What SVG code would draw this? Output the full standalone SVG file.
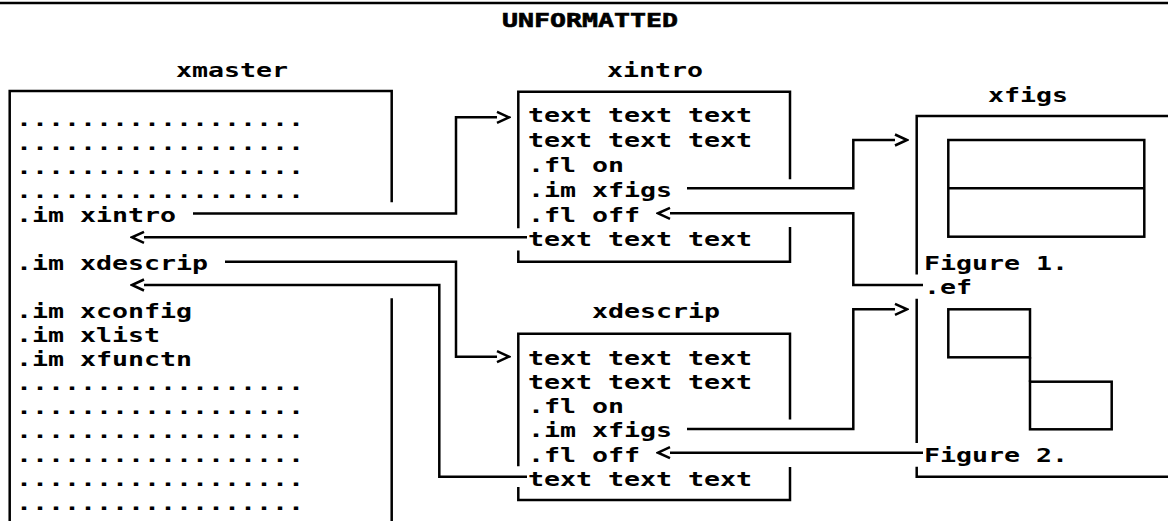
<svg xmlns="http://www.w3.org/2000/svg" width="1168" height="521" viewBox="0 0 1168 521">
  <style>
    .t { font-family: "DejaVu Sans Mono", "Liberation Mono", monospace; font-size: 20px; font-weight: bold; fill: #000; }
    .h { stroke: #000; stroke-width: 0.6px; }
    .box { fill: none; stroke: #000; stroke-width: 2.5; stroke-linecap: square; }
    .wire { fill: none; stroke: #000; stroke-width: 2.5; marker-end: url(#chev); }
    .plain { fill: none; stroke: #000; stroke-width: 2.5; }
  </style>
  <defs>
    <!-- open chevron head, drawn ahead of the path end like a typed > -->
    <marker id="chev" viewBox="-2 -8 16 16" refX="0" refY="0" markerWidth="16" markerHeight="16" orient="auto" markerUnits="userSpaceOnUse">
      <path d="M0,-5.5 L12,0 L0,5.5" fill="none" stroke="#000" stroke-width="2.5"/>
    </marker>
  </defs>
  <rect width="1168" height="521" fill="#fff"/>

  <!-- heading -->
  <g id="heading">
    <line x1="0" y1="3" x2="1168" y2="3" stroke="#000" stroke-width="2.5"/>
    <text class="t h" x="502" y="27" textLength="176" lengthAdjust="spacingAndGlyphs">UNFORMATTED</text>
  </g>

  <!-- master file -->
  <g id="xmaster">
    <text class="t" x="176" y="76.5" textLength="112" lengthAdjust="spacingAndGlyphs">xmaster</text>
    <path class="box" d="M9.7,521 V91 H391.7 V201 M391.7,299.5 V521"/>
    <g class="t">
      <text x="16" y="125.5" textLength="288" lengthAdjust="spacingAndGlyphs">..................</text>
      <text x="16" y="149.5" textLength="288" lengthAdjust="spacingAndGlyphs">..................</text>
      <text x="16" y="173.5" textLength="288" lengthAdjust="spacingAndGlyphs">..................</text>
      <text x="16" y="197.5" textLength="288" lengthAdjust="spacingAndGlyphs">..................</text>
      <text x="16" y="221.5" textLength="160" lengthAdjust="spacingAndGlyphs">.im xintro</text>
      <text x="16" y="269.5" textLength="192" lengthAdjust="spacingAndGlyphs">.im xdescrip</text>
      <text x="16" y="317.5" textLength="176" lengthAdjust="spacingAndGlyphs">.im xconfig</text>
      <text x="16" y="341.5" textLength="144" lengthAdjust="spacingAndGlyphs">.im xlist</text>
      <text x="16" y="365.5" textLength="176" lengthAdjust="spacingAndGlyphs">.im xfunctn</text>
      <text x="16" y="389.5" textLength="288" lengthAdjust="spacingAndGlyphs">..................</text>
      <text x="16" y="413.5" textLength="288" lengthAdjust="spacingAndGlyphs">..................</text>
      <text x="16" y="437.5" textLength="288" lengthAdjust="spacingAndGlyphs">..................</text>
      <text x="16" y="461.5" textLength="288" lengthAdjust="spacingAndGlyphs">..................</text>
      <text x="16" y="485.5" textLength="288" lengthAdjust="spacingAndGlyphs">..................</text>
      <text x="16" y="509.5" textLength="288" lengthAdjust="spacingAndGlyphs">..................</text>
    </g>
  </g>

  <!-- imbedded file: introduction -->
  <g id="xintro">
    <text class="t" x="607" y="76.5" textLength="96" lengthAdjust="spacingAndGlyphs">xintro</text>
    <path class="box" d="M518.3,227 V91.7 H790 V178 M790,228.3 V261.7 H518.3 V251.7"/>
    <g class="t">
      <text x="528" y="122" textLength="224" lengthAdjust="spacingAndGlyphs">text text text</text>
      <text x="528" y="147" textLength="224" lengthAdjust="spacingAndGlyphs">text text text</text>
      <text x="528" y="172" textLength="96" lengthAdjust="spacingAndGlyphs">.fl on</text>
      <text x="528" y="197" textLength="144" lengthAdjust="spacingAndGlyphs">.im xfigs</text>
      <text x="528" y="221.5" textLength="112" lengthAdjust="spacingAndGlyphs">.fl off</text>
      <text x="528" y="245.5" textLength="224" lengthAdjust="spacingAndGlyphs">text text text</text>
    </g>
  </g>

  <!-- imbedded file: description -->
  <g id="xdescrip">
    <text class="t" x="592" y="318" textLength="128" lengthAdjust="spacingAndGlyphs">xdescrip</text>
    <path class="box" d="M518.3,465 V333.7 H790 V418.3 M790,468.3 V500 H518.3 V488.3"/>
    <g class="t">
      <text x="528" y="365" textLength="224" lengthAdjust="spacingAndGlyphs">text text text</text>
      <text x="528" y="389" textLength="224" lengthAdjust="spacingAndGlyphs">text text text</text>
      <text x="528" y="413" textLength="96" lengthAdjust="spacingAndGlyphs">.fl on</text>
      <text x="528" y="437" textLength="144" lengthAdjust="spacingAndGlyphs">.im xfigs</text>
      <text x="528" y="461.5" textLength="112" lengthAdjust="spacingAndGlyphs">.fl off</text>
      <text x="528" y="485.5" textLength="224" lengthAdjust="spacingAndGlyphs">text text text</text>
    </g>
  </g>

  <!-- imbedded file: figures -->
  <g id="xfigs">
    <text class="t" x="988" y="102" textLength="80" lengthAdjust="spacingAndGlyphs">xfigs</text>
    <path class="box" d="M1168,116 H916.7 V273.3 M916.7,300 V441.7 M916.7,468 V476.7 H1168"/>
    <!-- figure 1: two stacked cells -->
    <rect class="box" x="948.3" y="140" width="196" height="96.7"/>
    <line class="plain" x1="948.3" y1="188.3" x2="1144.3" y2="188.3"/>
    <!-- figure 2: stepped cells -->
    <rect class="box" x="948.3" y="309.3" width="81.7" height="48"/>
    <rect class="box" x="1030" y="381.7" width="81.7" height="47.6"/>
    <line class="plain" x1="1030" y1="357.3" x2="1030" y2="381.7"/>
    <g class="t">
      <text x="924" y="270" textLength="144" lengthAdjust="spacingAndGlyphs">Figure 1.</text>
      <text x="924" y="293.5" textLength="48" lengthAdjust="spacingAndGlyphs">.ef</text>
      <text x="924" y="461.5" textLength="144" lengthAdjust="spacingAndGlyphs">Figure 2.</text>
    </g>
  </g>

  <g id="connectors">
    <!-- xmaster -> xintro and back -->
    <path class="wire" d="M193,213.5 H456 V117.3 H497"/>
    <path class="wire" d="M527,237.3 H144"/>
    <!-- xmaster -> xdescrip and back -->
    <path class="wire" d="M225,261.7 H456 V356.7 H497"/>
    <path class="wire" d="M527,476.7 H439.3 V285 H144"/>
    <!-- xintro -> figure 1 and back -->
    <path class="wire" d="M687,188.3 H853.3 V140 H895"/>
    <path class="wire" d="M923,285 H853.3 V213.3 H670"/>
    <!-- xdescrip -> figure 2 and back -->
    <path class="wire" d="M687,429 H853.3 V309.3 H895"/>
    <path class="wire" d="M923,452.7 H670"/>
  </g>
</svg>
